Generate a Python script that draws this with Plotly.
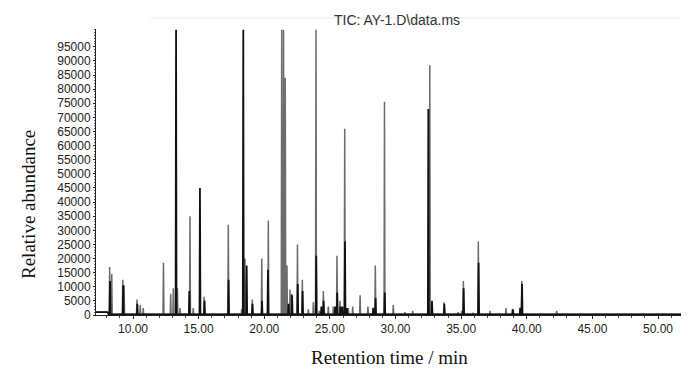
import numpy as np
import plotly.graph_objects as go

# ---- data (retention time in min, abundance) ----
CLIP = 101000  # peaks that run off the top of the chart

outline_times = [8.22, 8.38, 9.22, 9.32, 10.30, 10.55, 10.78, 12.32, 12.87, 13.07,
                 13.38, 13.58, 14.34, 14.59, 15.41, 17.26, 18.28, 18.53, 19.09, 19.81,
                 20.31, 21.33, 21.47, 21.60, 21.73, 21.96, 22.09, 22.53, 22.90, 23.36,
                 23.74, 23.94, 24.19, 24.50, 24.88, 25.26, 25.54, 25.77, 26.13, 26.40,
                 26.74, 27.30, 27.90, 28.46, 29.16, 29.83, 30.72, 31.31, 32.61, 33.70,
                 34.76, 35.04, 35.17, 35.90, 36.31, 37.20, 38.42, 38.90, 39.49, 39.62,
                 42.28]
outline_heights = [17000, 14500, 12500, 10500, 5500, 3500, 2500, 18500, 7500, 9500,
                   9500, 2500, 35000, 2500, 6500, 32000, 2000, 20000, 5500, 20000,
                   33500, CLIP, CLIP, 84000, 17500, 9000, 7500, 25000, 12500, 2000,
                   4500, CLIP, 1500, 8500, 3000, 3000, 21000, 5000, 66000, 2500,
                   3000, 7000, 3000, 17500, 75500, 3500, 1000, 1500, 88500, 4500,
                   1000, 1500, 12000, 800, 26000, 1500, 2500, 2000, 2000, 12000,
                   1500]

solid_times = [8.25, 9.25, 10.33, 13.28, 14.29, 15.10, 15.45, 17.28, 18.40, 18.66,
               19.10, 19.83, 20.28, 21.85, 22.12, 22.55, 22.92, 23.96, 24.35, 24.52,
               25.40, 25.56, 25.80, 25.95, 26.15, 26.30, 28.30, 28.48, 29.18, 32.50,
               32.78, 33.72, 35.19, 36.33, 38.95, 39.50, 39.64]
solid_heights = [12000, 10500, 4000, CLIP, 8500, 45000, 5000, 12500, CLIP, 17500,
                 4000, 5000, 16000, 4000, 7000, 11000, 8500, 21000, 3000, 5000,
                 3000, 8000, 3000, 3000, 26000, 2500, 2500, 6000, 8000, 73000,
                 5000, 4000, 9500, 18500, 2000, 2500, 11000]

baseline_times = [7.18, 8.05, 8.15, 52.4]
baseline_levels = [1000, 1000, 250, 250]

x_range = [7.18, 52.36]
y_range = [0, 101300]
y_tick_vals = list(range(0, 100000, 5000))
x_tick_vals = [10, 15, 20, 25, 30, 35, 40, 45, 50]


def trace_xy(times, heights, hw=0.035):
    pts = []
    for t, v in zip(baseline_times, baseline_levels):
        pts.append((t, v))
    for t, h in zip(times, heights):
        b = float(np.interp(t, baseline_times, baseline_levels))
        pts += [(t - hw, b), (t, h), (t + hw, b)]
    pts.sort(key=lambda p: p[0])
    return [p[0] for p in pts], [p[1] for p in pts]


gx, gy = trace_xy(outline_times, outline_heights)
bx, by = trace_xy(solid_times, solid_heights)

fig = go.Figure()
fig.add_trace(go.Scatter(x=gx, y=gy, mode="lines",
                         line=dict(color="#6c6c6c", width=1.5), hoverinfo="skip"))
fig.add_trace(go.Scatter(x=bx, y=by, mode="lines",
                         line=dict(color="#111111", width=1.8), hoverinfo="skip"))

tick_font = dict(family="Liberation Sans, Arial, sans-serif", size=12, color="#222222")
fig.update_layout(
    width=681, height=361,
    margin=dict(l=88, r=0, t=21, b=54),
    paper_bgcolor="white", plot_bgcolor="white",
    showlegend=False,
    xaxis=dict(range=x_range, tickvals=x_tick_vals,
               ticktext=[f"{v:.2f}" for v in x_tick_vals],
               showgrid=False, zeroline=False, showline=True,
               linecolor="#222222", linewidth=1,
               ticks="outside", ticklen=3, tickcolor="#222222",
               minor=dict(dtick=1, tick0=0, ticks="outside", ticklen=2, tickcolor="#444444"),
               tickfont=tick_font),
    yaxis=dict(range=y_range, tickvals=y_tick_vals, tickformat="d",
               showgrid=False, zeroline=False, showline=True,
               linecolor="#222222", linewidth=1,
               ticks="outside", ticklen=2, tickcolor="#222222",
               minor=dict(dtick=1000, tick0=0, ticks="outside", ticklen=1, tickcolor="#666666"),
               tickfont=tick_font),
)

fig.add_annotation(text="TIC: AY-1.D\\data.ms", xref="paper", yref="paper",
                   x=(397 - 96) / 593, y=1 + 9 / 286, showarrow=False,
                   xanchor="center", yanchor="middle",
                   font=dict(family="Liberation Sans, Arial, sans-serif", size=14, color="#333333"))
fig.add_annotation(text="Relative abundance", xref="paper", yref="paper",
                   x=-(96 - 28) / 593, y=(315 - 205) / 286, textangle=-90, showarrow=False,
                   xanchor="center", yanchor="middle",
                   font=dict(family="Liberation Serif, Times New Roman, serif", size=19, color="#111111"))
fig.add_annotation(text="Retention time / min", xref="paper", yref="paper",
                   x=(389 - 96) / 593, y=-(357 - 315) / 286, showarrow=False,
                   xanchor="center", yanchor="middle",
                   font=dict(family="Liberation Serif, Times New Roman, serif", size=19, color="#111111"))

# faint frame at the top of the picture
fig.add_shape(type="line", xref="paper", yref="paper",
              x0=(150 - 96) / 593, x1=1, y0=1 + 11 / 286, y1=1 + 11 / 286,
              line=dict(color="#ececec", width=1))

fig.write_html("out.html")
